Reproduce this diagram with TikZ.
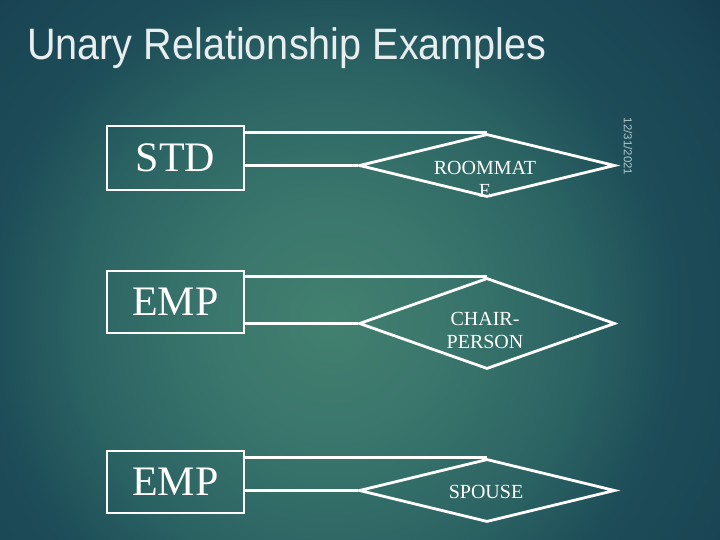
\documentclass[tikz,border=0pt]{standalone}
\usepackage{fontspec}
\setmainfont{Liberation Serif}
\setsansfont{Liberation Sans}
\usetikzlibrary{shapes.geometric}
\definecolor{bga}{HTML}{42806F}
\definecolor{bgb}{HTML}{3A766C}
\definecolor{bgc}{HTML}{2B6363}
\definecolor{bgd}{HTML}{1D4D58}
\definecolor{bge}{HTML}{1A4454}
\definecolor{bgf}{HTML}{133A4C}
\definecolor{titlec}{HTML}{E8EEF0}
\definecolor{datec}{HTML}{B2C6CB}
\pgfdeclareradialshading{bgshade}{\pgfpoint{0bp}{0bp}}{color(0bp)=(bga); color(5.9bp)=(bgb); color(12.25bp)=(bgc); color(16.8bp)=(bgd); color(22bp)=(bge); color(25bp)=(bgf); color(50bp)=(bgf)}
\tikzset{
  entity/.style={draw=white, line width=2.8pt, rectangle, minimum width=137pt, minimum height=63pt, inner sep=0pt, text=white, font=\fontsize{42}{42}\selectfont},
  rel/.style={draw=white, line width=2.8pt, diamond, minimum width=256pt, inner sep=0pt},
  reltext/.style={text=white, align=center, inner sep=0pt, font=\fontsize{20}{23}\selectfont},
  link/.style={draw=white, line width=2.8pt}
}
\begin{document}
\begin{tikzpicture}[x=1pt,y=-1pt]
\useasboundingbox (0,0) rectangle (720,540);
\begin{scope}
\clip (0,0) rectangle (720,540);
\fill[bgf] (0,0) rectangle (720,540);
\shade[shading=bgshade] (330,320) circle (510);
\end{scope}
\node[anchor=base west, inner sep=0pt, text=titlec, xscale=0.9, font=\sffamily\fontsize{44}{50}\selectfont] (title) at (27,60) {Unary Relationship Examples};
\node[rotate=-90, inner sep=0pt, text=datec, font=\sffamily\fontsize{11.5}{13}\selectfont] (date) at (628,146.5) {12/31/2021};

\node[entity, minimum height=64pt] (std) at (175.5,158) {STD};
\node[entity, minimum height=62pt] (emp1) at (175.5,302) {EMP};
\node[entity, minimum height=62pt] (emp2) at (175.5,482) {EMP};

\node[rel, minimum height=63pt] (room) at (487,165.5) {};
\node[rel, minimum height=91pt] (chair) at (487,323.5) {};
\node[rel, minimum height=63pt] (spouse) at (487,490.5) {};

\node[reltext] (roomt) at (485,179) {ROOMMAT\\E};
\node[reltext] (chairt) at (485,330) {CHAIR-\\PERSON};
\node[reltext] (spouset) at (486,491.5) {SPOUSE};

\draw[link] (room.north -| std.east) -- (room.north);
\draw[link] (room.west -| std.east) -- (room.west);
\draw[link] (chair.north -| emp1.east) -- (chair.north);
\draw[link] (chair.west -| emp1.east) -- (chair.west);
\draw[link] (spouse.north -| emp2.east) -- (spouse.north);
\draw[link] (spouse.west -| emp2.east) -- (spouse.west);
\end{tikzpicture}
\end{document}
